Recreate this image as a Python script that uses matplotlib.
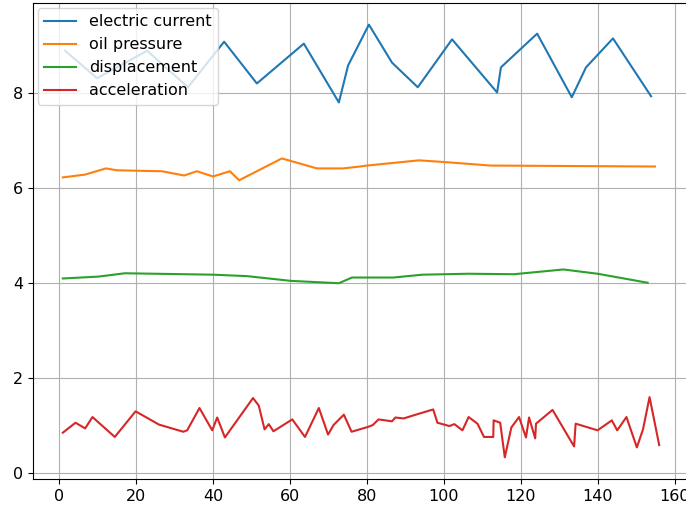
import matplotlib.pyplot as plt

# electric current
cur_x = [1.6, 9.9, 22.9, 33.5, 42.9, 51.4, 63.6, 72.7, 75.1, 80.5, 86.5, 93.2,
         102.1, 113.8, 114.8, 124.2, 133.2, 136.9, 143.9, 153.8]
cur_y = [8.9, 8.32, 8.9, 8.13, 9.09, 8.21, 9.05, 7.81, 8.59, 9.45, 8.65, 8.13,
         9.14, 8.02, 8.55, 9.26, 7.92, 8.55, 9.16, 7.94]

# oil pressure
oil_x = [1.0, 6.8, 12.2, 15.1, 26.8, 32.5, 35.8, 40.0, 44.4, 46.8, 57.9, 67.0,
         73.8, 78.2, 80.0, 93.5, 100.8, 112.0, 154.8]
oil_y = [6.23, 6.29, 6.42, 6.38, 6.36, 6.27, 6.36, 6.25, 6.36, 6.17, 6.63, 6.42,
         6.42, 6.46, 6.48, 6.59, 6.55, 6.48, 6.46]

# displacement
dis_x = [1.0, 10.3, 17.1, 40.1, 48.8, 60.2, 72.7, 76.1, 86.8, 94.4, 106.3,
         118.2, 131.0, 139.9, 152.9]
dis_y = [4.10, 4.14, 4.21, 4.18, 4.15, 4.05, 4.0, 4.12, 4.12, 4.18, 4.2,
         4.19, 4.29, 4.2, 4.01]

# acceleration
acc_x = [1.0, 4.3, 6.8, 8.7, 14.5, 19.9, 26.0, 32.3, 33.3, 36.5, 39.8, 41.1,
         43.1, 50.4, 51.9, 53.4, 54.5, 55.7, 60.6, 63.9, 67.5, 69.9, 71.3, 74.0,
         76.0, 80.2, 81.5, 83.0, 86.5, 87.4, 89.5, 93.1, 97.2, 98.3, 101.4,
         102.7, 104.8, 106.4, 108.7, 110.4, 112.8, 112.9, 114.6, 115.8, 117.5,
         119.5, 121.3, 122.1, 123.7, 123.9, 128.2, 133.8, 134.2, 139.9, 143.6,
         145.0, 147.4, 150.1, 151.7, 153.4, 155.9]
acc_y = [0.85, 1.06, 0.94, 1.18, 0.76, 1.30, 1.02, 0.87, 0.90, 1.37, 0.90, 1.17,
         0.75, 1.58, 1.42, 0.92, 1.03, 0.88, 1.13, 0.76, 1.37, 0.81, 1.01, 1.23,
         0.87, 0.97, 1.01, 1.13, 1.09, 1.17, 1.15, 1.24, 1.34, 1.06, 0.99,
         1.03, 0.90, 1.18, 1.04, 0.76, 0.76, 1.11, 1.06, 0.33, 0.96,
         1.18, 0.75, 1.17, 0.73, 1.04, 1.33, 0.56, 1.04, 0.90, 1.11,
         0.90, 1.18, 0.54, 0.92, 1.60, 0.59]

plt.rcParams['font.size'] = 11.5

fig = plt.figure(figsize=(6.86, 5.08), dpi=100)
ax = fig.add_axes([33 / 686, 29 / 508, 656 / 686, 476 / 508])
ax.plot(cur_x, cur_y, label='electric current')
ax.plot(oil_x, oil_y, label='oil pressure')
ax.plot(dis_x, dis_y, label='displacement')
ax.plot(acc_x, acc_y, label='acceleration')
ax.grid(True)
ax.legend(loc='upper left', borderaxespad=0.3)
fig.savefig('out.png', dpi=100)
